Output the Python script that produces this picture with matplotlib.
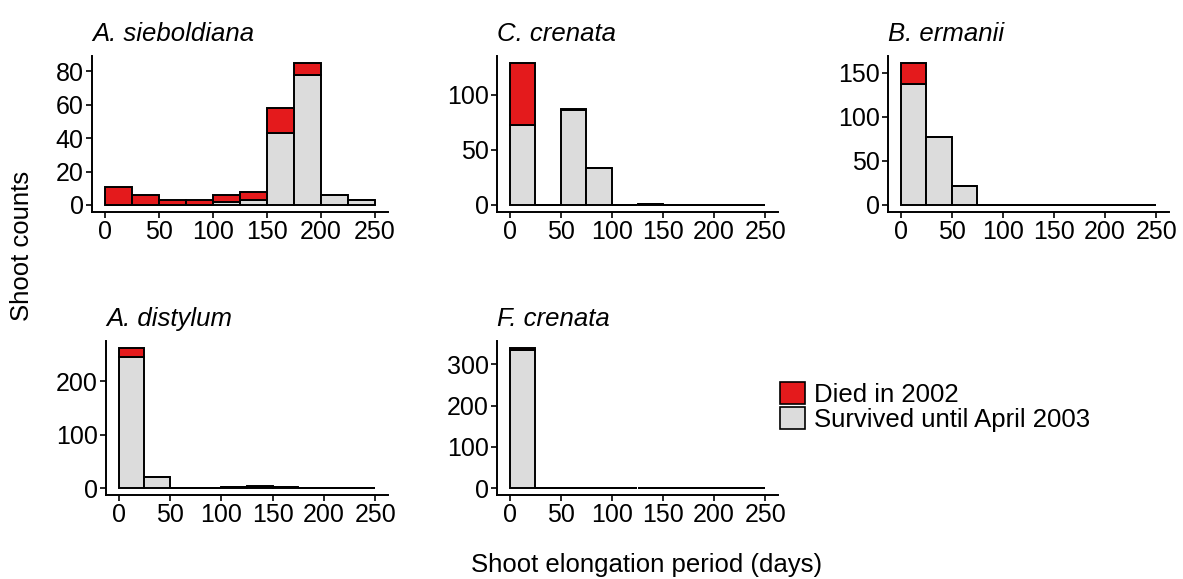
import numpy as np
import matplotlib.pyplot as plt
from matplotlib.patches import Patch

plt.rcParams['font.family'] = ['Liberation Sans', 'DejaVu Sans']

# histogram bins, 25 days wide
bin_left = [0, 25, 50, 75, 100, 125, 150, 175, 200, 225]

species = ['A. sieboldiana', 'C. crenata', 'B. ermanii', 'A. distylum', 'F. crenata']

# counts per bin: survived until April 2003 / died in 2002
survived = {
    'A. sieboldiana': [0, 0, 0, 0, 2, 3, 43, 78, 6, 3],
    'C. crenata':     [73, 0, 86, 34, 0, 1, 0, 0, 0, 0],
    'B. ermanii':     [137, 77, 21, 0, 0, 0, 0, 0, 0, 0],
    'A. distylum':    [246, 20, 0, 0, 1, 2, 1, 0, 0, 0],
    'F. crenata':     [335, 0, 0, 0, 0, 0, 0, 0, 0, 0],
}
died = {
    'A. sieboldiana': [11, 6, 3, 3, 4, 5, 15, 7, 0, 0],
    'C. crenata':     [56, 0, 1, 0, 0, 0, 0, 0, 0, 0],
    'B. ermanii':     [24, 0, 0, 0, 0, 0, 0, 0, 0, 0],
    'A. distylum':    [16, 0, 0, 0, 0, 1, 0, 0, 0, 0],
    'F. crenata':     [5, 0, 0, 0, 0, 0, 0, 0, 0, 0],
}
yticks = {
    'A. sieboldiana': [0, 20, 40, 60, 80],
    'C. crenata': [0, 50, 100],
    'B. ermanii': [0, 50, 100, 150],
    'A. distylum': [0, 100, 200],
    'F. crenata': [0, 100, 200, 300],
}
xticks = [0, 50, 100, 150, 200, 250]

red = '#E41A1C'
grey = '#DCDCDC'

W, H = 1183, 579
fig = plt.figure(figsize=(W / 100, H / 100), dpi=100)

# panel boxes in pixels: left, right, top, bottom
boxes = {
    'A. sieboldiana': (92, 388, 56, 212),
    'C. crenata': (497, 778, 56, 212),
    'B. ermanii': (888, 1169, 56, 212),
    'A. distylum': (106, 388, 341, 495),
    'F. crenata': (497, 778, 341, 495),
}

fs_tick = 18
fs = 18.5
for sp in species:
    l, r, t, b = boxes[sp]
    ax = fig.add_axes([l / W, 1 - b / H, (r - l) / W, (b - t) / H])
    s = np.array(survived[sp])
    d = np.array(died[sp])
    ax.bar(bin_left, s, width=25, align='edge', color=grey,
           edgecolor='black', linewidth=1.4, zorder=2)
    ax.bar(bin_left, d, width=25, align='edge', bottom=s, color=red,
           edgecolor='black', linewidth=1.4, zorder=2)
    top = (s + d).max()
    ax.set_ylim(-0.05 * top, 1.05 * top)
    ax.set_xlim(-12.5, 262.5)
    ax.set_xticks(xticks)
    ax.set_yticks(yticks[sp])
    ax.tick_params(labelsize=fs_tick, length=4, width=1.2, colors='black', pad=2)
    for side in ['top', 'right']:
        ax.spines[side].set_visible(False)
    for side in ['left', 'bottom']:
        ax.spines[side].set_linewidth(1.4)
    ax.set_title(sp, loc='left', fontsize=18.5, style='italic', pad=11)

fig.text(647 / W, 1 - 565 / H, 'Shoot elongation period (days)',
         ha='center', va='center', fontsize=fs)
fig.text(22 / W, 1 - 246 / H, 'Shoot counts', ha='center', va='center',
         rotation=90, fontsize=fs)

handles = [Patch(facecolor=red, edgecolor='black', linewidth=1.2, label='Died in 2002'),
           Patch(facecolor=grey, edgecolor='black', linewidth=1.2, label='Survived until April 2003')]
fig.legend(handles=handles, loc='upper left', bbox_to_anchor=(770 / W, 1 - 372 / H),
           frameon=False, fontsize=fs, handlelength=0.95, handleheight=0.95,
           handletextpad=0.35, labelspacing=0.0, borderaxespad=0)

fig.savefig('out.png', dpi=100)
